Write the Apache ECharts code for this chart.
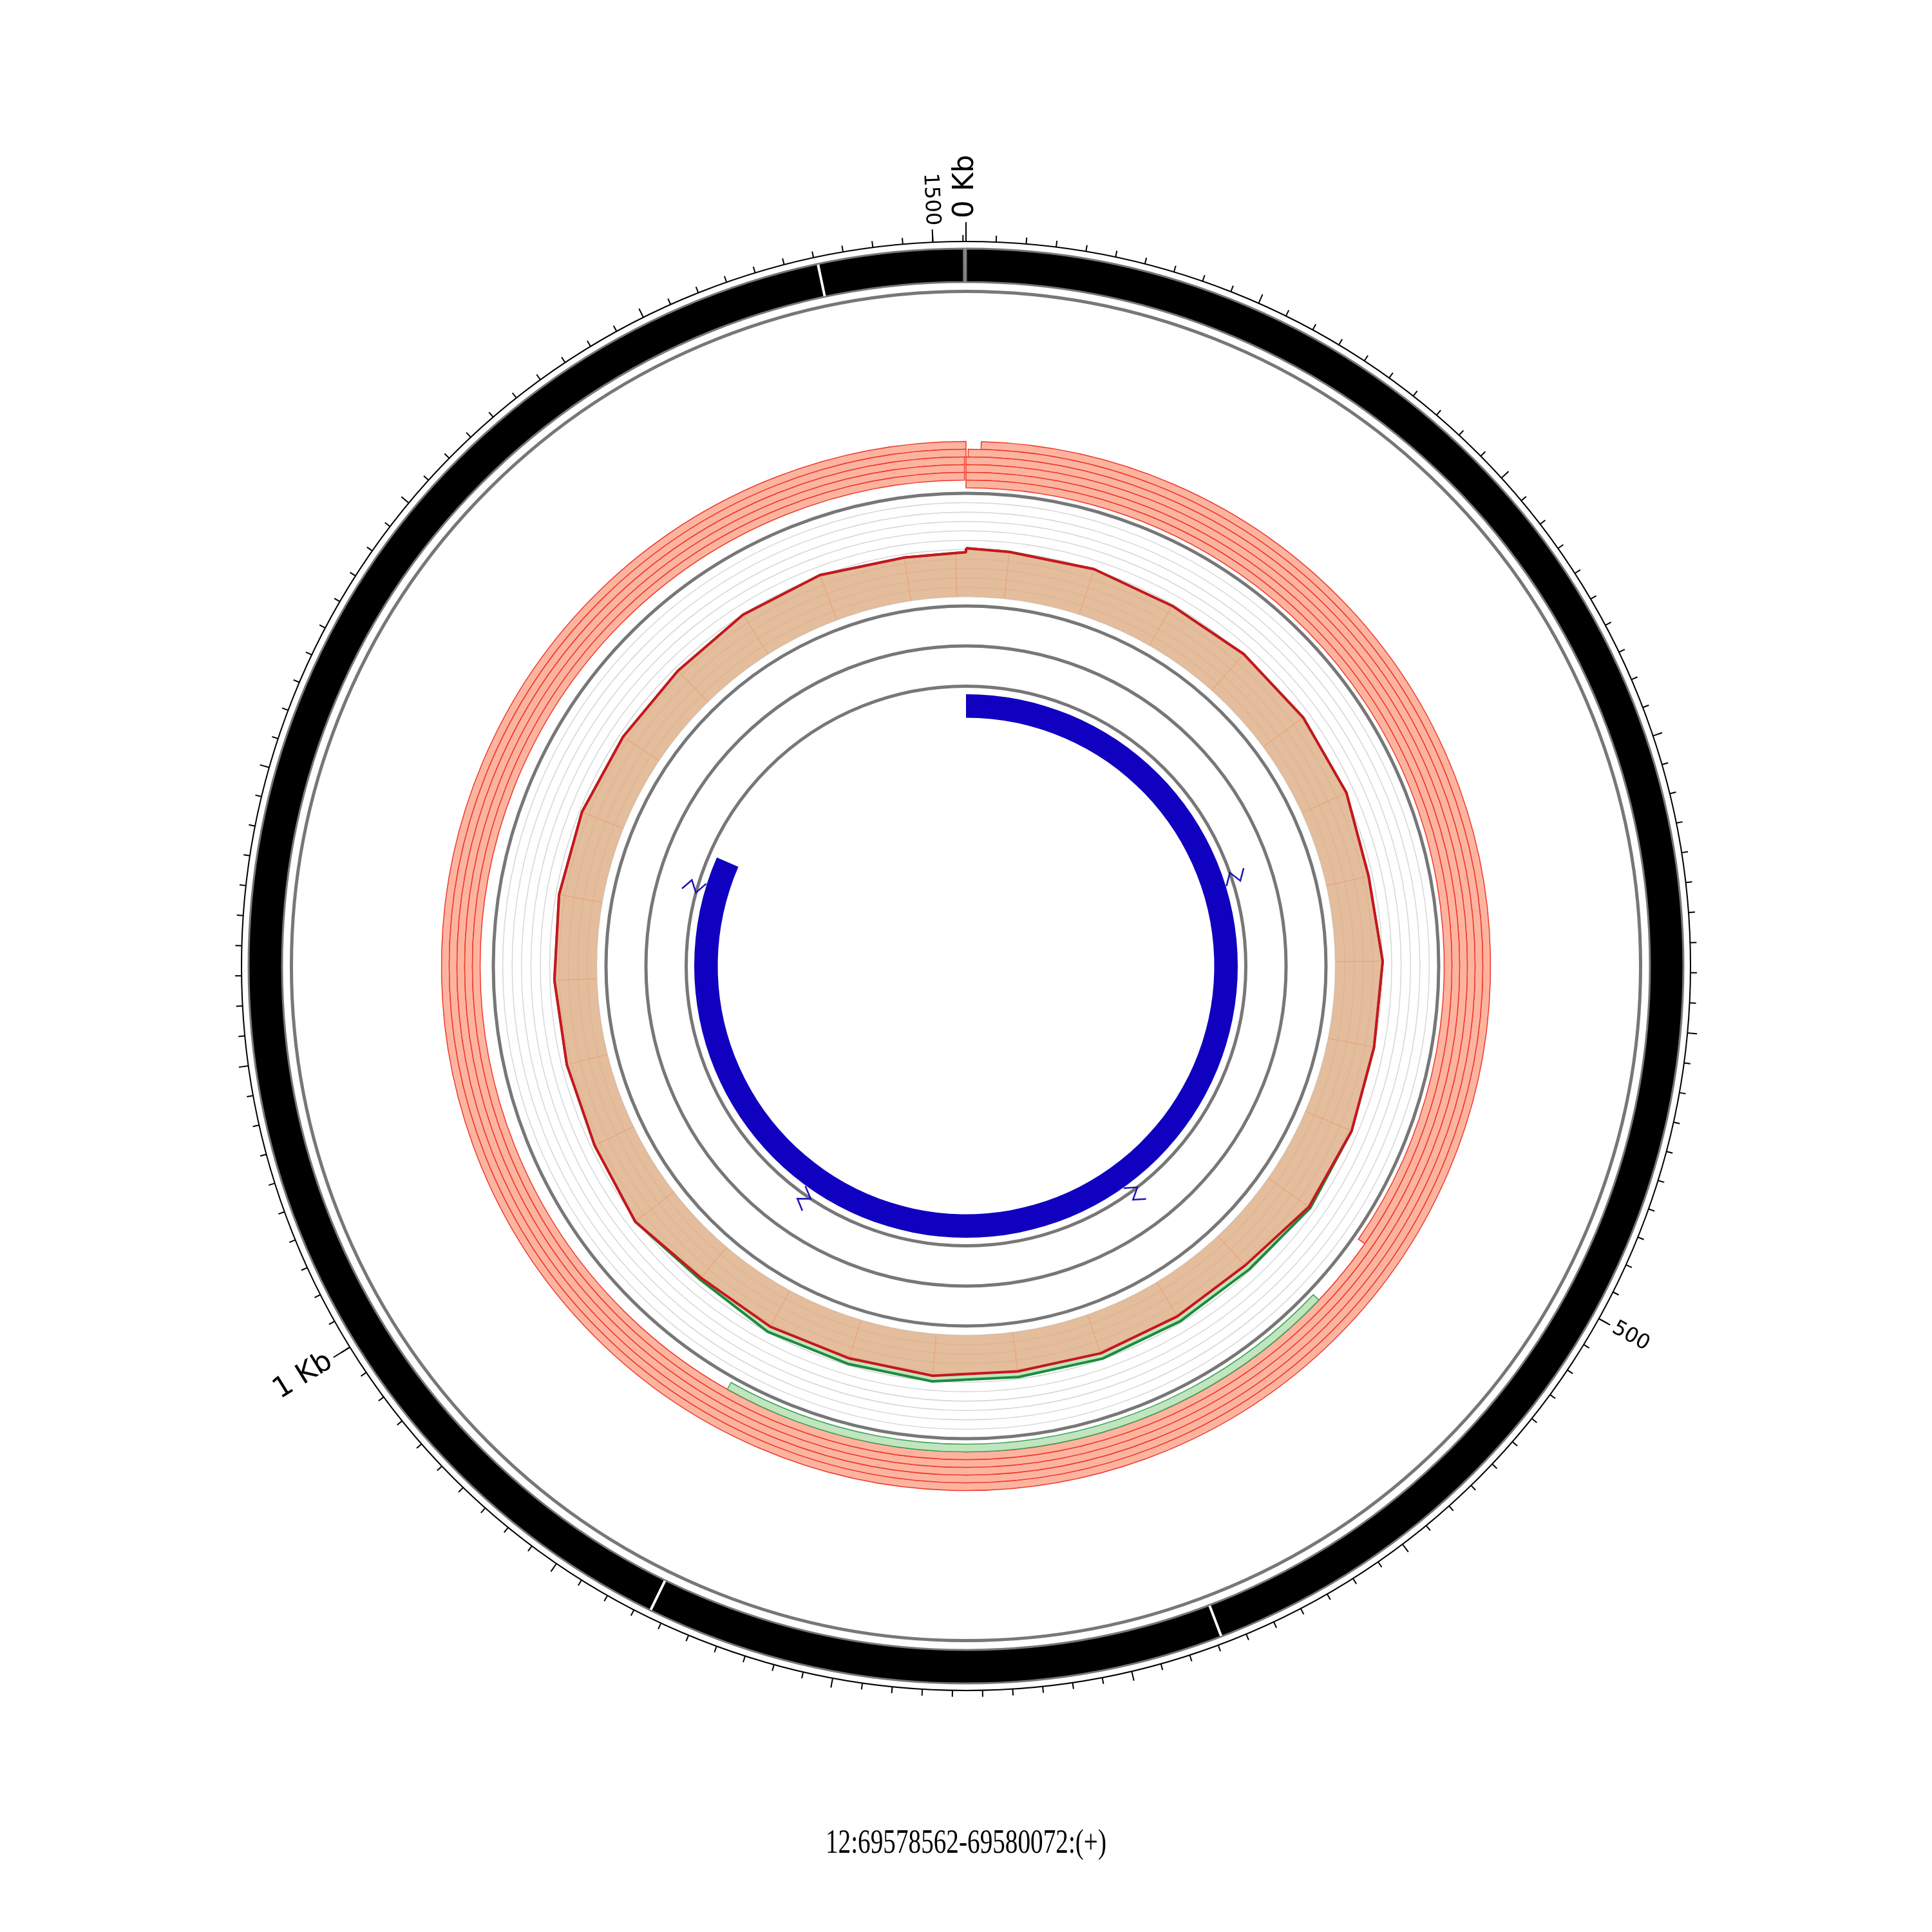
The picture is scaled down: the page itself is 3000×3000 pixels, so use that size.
<!DOCTYPE html>
<html>
<head>
<meta charset="utf-8">
<script src="https://cdn.jsdelivr.net/npm/echarts@6/dist/echarts.min.js"></script>
<style>
  html, body { margin: 0; padding: 0; background: #fff; }
  #chart { width: 3000px; height: 3000px; }
</style>
</head>
<body>
<div id="chart"></div>
<script>
// region shown round the circle (bp from region start)
const regionLabel = '12:69578562-69580072:(+)';
const regionLength = 1511;

// outer ideogram: exon junctions, labelled ticks
const exonJunctions = [668, 865, 1461];
const tickLabelPos = [0, 500, 1000, 1500];
const tickLabelText = ['0 Kb', '500', '1 Kb', '1500'];

// read arcs (row 0 = outermost)
const readStart = [7, 1, 0, 0, 0, 0];
const readEnd = [1511, 1511, 1511, 1511, 1511, 524];
const readRow = [0, 1, 2, 3, 4, 5];
const splitReadStart = [560];
const splitReadEnd = [879];
const splitReadRow = [5];

// coverage track, sample A (red) and sample B (green)
const covPos = [0, 25, 75, 125, 175, 225, 275, 325, 375, 425, 475, 525, 575, 625, 675, 725, 775,
  825, 875, 925, 975, 1025, 1075, 1125, 1175, 1225, 1275, 1325, 1375, 1425, 1475, 1505, 1511, 1511];
const covA = [5.16, 5.00, 5.07, 4.86, 5.14, 5.27, 5.18, 4.59, 5.04, 4.97, 5.33, 5.30, 4.26, 4.24, 4.33, 4.19, 4.45,
  4.26, 4.37, 4.25, 5.18, 4.59, 4.45, 4.52, 4.66, 4.73, 4.59, 4.59, 4.97, 5.10, 4.66, 4.66, 4.73, 5.16];
const covB = [5.16, 5.00, 5.07, 4.86, 5.14, 5.27, 5.18, 4.59, 5.04, 4.97, 5.33, 5.48, 4.86, 4.84, 4.93, 4.79, 5.05,
  4.86, 4.97, 4.45, 5.18, 4.59, 4.45, 4.52, 4.66, 4.73, 4.59, 4.59, 4.97, 5.10, 4.66, 4.66, 4.73, 5.16];

// transcript feature (blue) and its direction marks
const featureStart = [0];
const featureEnd = [1232];
const featureMarks = [301, 602, 902, 1202];

// layout (pixels from centre)
const R_OUT = 1125;
const BAND = [1062, 1114];
const GUIDES = [1047.5, 734, 559, 497, 434.5];
const COV_R = [573.5, 734];
const READ_R = [742.5, 814.5];
const FEAT_R = [385.5, 422];
const ZIG = [[423, 9], [434.5, -9], [446, 8], [457, -9]];

const chart = echarts.init(document.getElementById('chart'));

function sectorShape(params, api, ra, rb, a0, a1) {
  const p0 = api.coord([ra, a0]);
  const p1 = api.coord([rb, a1]);
  const s = -p0[3];
  let e = -p1[3];
  if (e - s > 2 * Math.PI - 0.003) e = s + 2 * Math.PI - 0.003;
  return {
    cx: params.coordSys.cx, cy: params.coordSys.cy,
    r0: Math.min(p0[2], p1[2]), r: Math.max(p0[2], p1[2]),
    startAngle: s, endAngle: e, clockwise: true
  };
}

function hiddenAngle(i) {
  return { polarIndex: i, type: 'value', min: 0, max: regionLength, startAngle: 90, clockwise: true, show: false };
}

const option = {
  backgroundColor: '#fff',
  animation: false,
  polar: [
    { center: ['50%', '50%'], radius: [0, R_OUT] },
    { center: ['50%', '50%'], radius: COV_R },
    { center: ['50%', '50%'], radius: READ_R }
  ],
  angleAxis: [
    {
      polarIndex: 0, type: 'value', min: 0, max: regionLength, interval: 100,
      startAngle: 90, clockwise: true,
      axisLine: { lineStyle: { color: '#000', width: 2 } },
      axisTick: { show: true, length: 15, lineStyle: { color: '#000', width: 2 } },
      minorTick: { show: true, splitNumber: 10, length: 10, lineStyle: { color: '#000', width: 2 } },
      axisLabel: { show: false },
      splitLine: { show: false }
    },
    hiddenAngle(1),
    hiddenAngle(2)
  ],
  radiusAxis: [
    { polarIndex: 0, type: 'value', min: 0, max: R_OUT, show: false },
    {
      polarIndex: 1, type: 'value', min: 0, max: 11, interval: 1,
      axisLine: { show: false }, axisTick: { show: false }, axisLabel: { show: false },
      splitLine: { show: true, lineStyle: { color: '#d6d6d6', width: 1.5 } }
    },
    { polarIndex: 2, type: 'value', min: 0, max: 6, inverse: true, show: false }
  ],
  graphic: [{
    type: 'text', x: 1500, y: 2863, scaleX: 0.74,
    style: { text: regionLabel, fontFamily: 'Liberation Serif', fontSize: 53, fill: '#000', align: 'center', verticalAlign: 'middle' }
  }],
  series: [
    // track frames
    {
      type: 'custom', coordinateSystem: 'polar', polarIndex: 0, silent: true, z: 4,
      data: [[0, 0]],
      renderItem: function (params, api) {
        return {
          type: 'group',
          children: GUIDES.map(function (r) {
            return {
              type: 'circle',
              shape: { cx: params.coordSys.cx, cy: params.coordSys.cy, r: api.coord([r, 0])[2] },
              style: { fill: 'none', stroke: '#777', lineWidth: 5 }
            };
          })
        };
      }
    },
    // ideogram band
    {
      type: 'custom', coordinateSystem: 'polar', polarIndex: 0, silent: true, z: 2,
      data: [[0, regionLength]],
      renderItem: function (params, api) {
        return {
          type: 'sector',
          shape: sectorShape(params, api, BAND[0], BAND[1], api.value(0), api.value(1)),
          style: { fill: '#000', stroke: '#777', lineWidth: 3 }
        };
      }
    },
    // exon junctions
    {
      type: 'custom', coordinateSystem: 'polar', polarIndex: 0, silent: true, z: 3,
      data: exonJunctions.map(function (p) { return [p]; }),
      renderItem: function (params, api) {
        const a = api.coord([BAND[0] + 1, api.value(0)]);
        const b = api.coord([BAND[1] - 1, api.value(0)]);
        return { type: 'line', shape: { x1: a[0], y1: a[1], x2: b[0], y2: b[1] }, style: { stroke: '#fff', lineWidth: 4 } };
      }
    },
    // labelled ticks
    {
      type: 'custom', coordinateSystem: 'polar', polarIndex: 0, silent: true, z: 3,
      data: tickLabelPos.map(function (p, i) { return [p, i]; }),
      renderItem: function (params, api) {
        const pos = api.value(0);
        const text = tickLabelText[api.value(1)];
        const isKb = text.indexOf('Kb') >= 0;
        const len = isKb ? 30 : 20;
        const p0 = api.coord([R_OUT, pos]);
        const p1 = api.coord([R_OUT + len, pos]);
        const pt = api.coord([R_OUT + len + 6, pos]);
        let theta = (90 - pt[3] * 180 / Math.PI) % 360;
        if (theta < 0) theta += 360;
        const flip = theta >= 180;
        const rot = (flip ? 270 - theta : 90 - theta) * Math.PI / 180;
        return {
          type: 'group',
          children: [
            { type: 'line', shape: { x1: p0[0], y1: p0[1], x2: p1[0], y2: p1[1] }, style: { stroke: '#000', lineWidth: 2 } },
            {
              type: 'text', x: pt[0], y: pt[1], rotation: rot,
              style: {
                text: text, fontFamily: 'DejaVu Sans', fontSize: isKb ? 44 : 32, fill: '#000',
                align: flip ? 'right' : 'left', verticalAlign: 'middle'
              }
            }
          ]
        };
      }
    },
    // coverage A
    {
      type: 'line', coordinateSystem: 'polar', polarIndex: 1, stack: 'cov', z: 3, silent: true, clip: false,
      symbol: 'none', showSymbol: false,
      data: covPos.map(function (p, i) { return [covA[i], p]; }),
      lineStyle: { color: '#c8161d', width: 4 },
      areaStyle: { color: '#ddad85', opacity: 0.8 }
    },
    // coverage B, stacked as its excess over A
    {
      type: 'line', coordinateSystem: 'polar', polarIndex: 1, stack: 'cov', z: 2, silent: true, clip: false,
      symbol: 'none', showSymbol: false,
      data: covPos.map(function (p, i) { return [covB[i] - covA[i], p]; }),
      lineStyle: { color: '#1d8b3e', width: 4 },
      areaStyle: { color: '#c0e4bd', opacity: 1 }
    },
    // bin edges inside the coverage fill
    {
      type: 'custom', coordinateSystem: 'polar', polarIndex: 1, silent: true, z: 3,
      data: covPos.slice(1, covPos.length - 2).map(function (p, i) { return [covA[i + 1], p]; }),
      renderItem: function (params, api) {
        const a = api.coord([0, api.value(1)]);
        const b = api.coord([api.value(0), api.value(1)]);
        return { type: 'line', shape: { x1: a[0], y1: a[1], x2: b[0], y2: b[1] }, style: { stroke: 'rgba(236,150,105,0.55)', lineWidth: 1.5 } };
      }
    },
    // reads
    {
      type: 'custom', coordinateSystem: 'polar', polarIndex: 2, silent: true, z: 3,
      data: readStart.map(function (s, i) { return [s, readEnd[i], readRow[i]]; }),
      renderItem: function (params, api) {
        const row = api.value(2);
        return {
          type: 'sector',
          shape: sectorShape(params, api, row, row + 1, api.value(0), api.value(1)),
          style: { fill: '#fcb4a0', stroke: '#ee3a2a', lineWidth: 1.5 }
        };
      }
    },
    // split read
    {
      type: 'custom', coordinateSystem: 'polar', polarIndex: 2, silent: true, z: 3,
      data: splitReadStart.map(function (s, i) { return [s, splitReadEnd[i], splitReadRow[i]]; }),
      renderItem: function (params, api) {
        const row = api.value(2);
        return {
          type: 'sector',
          shape: sectorShape(params, api, row, row + 1, api.value(0), api.value(1)),
          style: { fill: '#c0e5bf', stroke: '#3fa355', lineWidth: 1.5 }
        };
      }
    },
    // transcript feature
    {
      type: 'custom', coordinateSystem: 'polar', polarIndex: 0, silent: true, z: 3,
      data: featureStart.map(function (s, i) { return [s, featureEnd[i]]; }),
      renderItem: function (params, api) {
        return {
          type: 'sector',
          shape: sectorShape(params, api, FEAT_R[0], FEAT_R[1], api.value(0), api.value(1)),
          style: { fill: '#1000bf' }
        };
      }
    },
    // direction marks
    {
      type: 'custom', coordinateSystem: 'polar', polarIndex: 0, silent: true, z: 5,
      data: featureMarks.map(function (p) { return [p]; }),
      renderItem: function (params, api) {
        const pos = api.value(0);
        const pts = ZIG.map(function (z) {
          const p = api.coord([z[0], pos]);
          return [p[0] + z[1] * Math.sin(p[3]), p[1] + z[1] * Math.cos(p[3])];
        });
        return { type: 'polyline', shape: { points: pts }, style: { stroke: '#1c14b4', lineWidth: 2.5, fill: 'none' } };
      }
    }
  ]
};

chart.setOption(option);
</script>
</body>
</html>
